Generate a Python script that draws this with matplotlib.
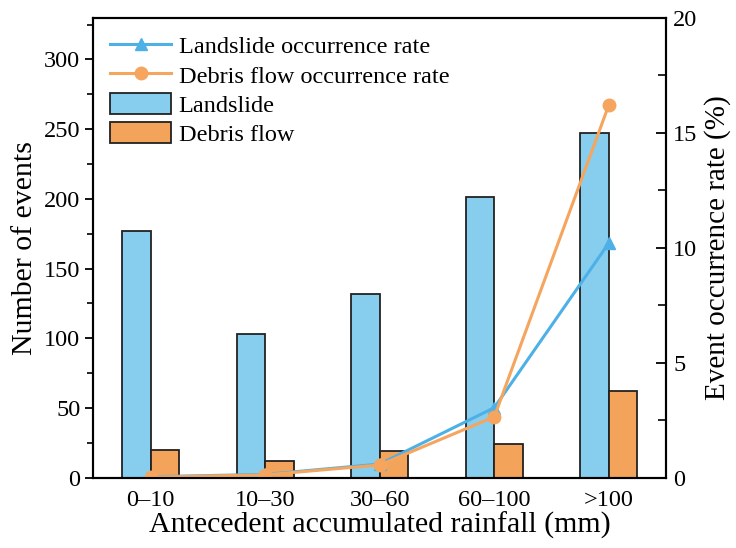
import numpy as np
import matplotlib
matplotlib.use('Agg')
import matplotlib.pyplot as plt
from matplotlib.ticker import MultipleLocator

categories = ['0\u201310', '10\u201330', '30\u201360', '60\u2013100', '>100']
landslide_count = [177, 103, 132, 201, 247]
debris_count = [20, 12, 19, 24, 62]
landslide_rate = [0.05, 0.15, 0.6, 3.05, 10.2]
debris_rate = [0.03, 0.13, 0.56, 2.65, 16.2]

plt.rcParams['font.family'] = ['Liberation Serif', 'DejaVu Serif']

c_bar_blue = '#87CEEE'
c_bar_orange = '#F4A45A'
c_line_blue = '#4DB0E6'
c_line_orange = '#F5A55E'

fig = plt.figure(figsize=(7.36, 5.48), dpi=100)
ax = fig.add_axes([0.127, 0.128, 0.778, 0.840])
x = np.arange(len(categories))
w = 0.25

b1 = ax.bar(x - w/2, landslide_count, w, color=c_bar_blue, edgecolor='#222222', linewidth=1.3, label='Landslide')
b2 = ax.bar(x + w/2, debris_count, w, color=c_bar_orange, edgecolor='#222222', linewidth=1.3, label='Debris flow')
ax.set_xlim(-0.5, 4.5)
ax.set_ylim(0, 330)
ax.yaxis.set_major_locator(MultipleLocator(50))
ax.yaxis.set_minor_locator(MultipleLocator(25))
ax.set_xticks(x)
ax.set_xticklabels(categories)
ax.tick_params(axis='x', length=0, labelsize=17.5, pad=9)
ax.tick_params(axis='y', which='major', direction='out', length=6, width=1.3, labelsize=17.5)
ax.tick_params(axis='y', which='minor', direction='out', length=4.5, width=1.2)
ax.set_ylabel('Number of events', fontsize=21.5, labelpad=4)
ax.set_xlabel('Antecedent accumulated rainfall (mm)', fontsize=21.5, labelpad=0)
for s in ax.spines.values():
    s.set_linewidth(1.5)

ax2 = ax.twinx()
l1, = ax2.plot(x, landslide_rate, '-^', color=c_line_blue, lw=2.2, ms=9, label='Landslide occurrence rate')
l2, = ax2.plot(x, debris_rate, '-o', color=c_line_orange, lw=2.2, ms=9, label='Debris flow occurrence rate')
ax2.set_ylim(0, 20)
ax2.yaxis.set_major_locator(MultipleLocator(5))
ax2.yaxis.set_minor_locator(MultipleLocator(2.5))
ax2.tick_params(axis='y', which='major', direction='in', length=7, width=1.3, labelsize=17.5, pad=5)
ax2.tick_params(axis='y', which='minor', direction='in', length=5.5, width=1.2)
ax2.set_ylabel('Event occurrence rate (%)', fontsize=21, labelpad=5)
for s in ax2.spines.values():
    s.set_linewidth(1.5)

ax2.legend(handles=[l1, l2, b1, b2], loc='upper left', frameon=False, fontsize=17.5,
           handlelength=2.5, handleheight=0.95, labelspacing=0.22, borderaxespad=0.3,
           handletextpad=0.3, bbox_to_anchor=(0.0, 1.0))

fig.savefig('out.png', dpi=100)
